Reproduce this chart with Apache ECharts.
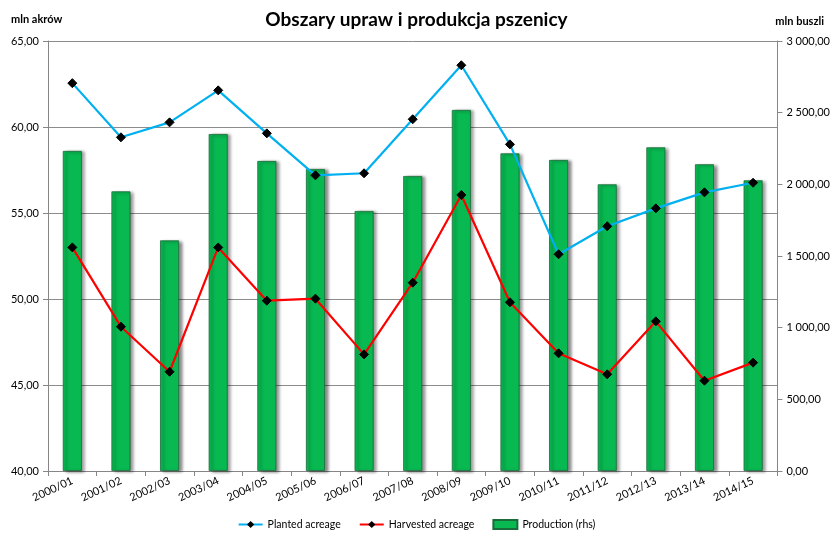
<!DOCTYPE html>
<html>
<head>
<meta charset="utf-8">
<script src="https://cdn.jsdelivr.net/npm/echarts@6/dist/echarts.min.js"></script>
<style>html,body{margin:0;padding:0;background:#fff}#c{width:833px;height:538px}</style>
</head>
<body>
<div id="c"></div>
<script>
const categories = ['2000/01','2001/02','2002/03','2003/04','2004/05','2005/06','2006/07','2007/08','2008/09','2009/10','2010/11','2011/12','2012/13','2013/14','2014/15'];
const planted = [62.55, 59.40, 60.27, 62.13, 59.63, 57.19, 57.31, 60.45, 63.59, 58.99, 52.60, 54.23, 55.27, 56.20, 56.76];
const harvested = [53.00, 48.39, 45.77, 53.00, 49.90, 50.02, 46.78, 50.95, 56.05, 49.81, 46.84, 45.62, 48.70, 45.25, 46.30];
const production = [2233, 1951, 1609, 2351, 2163, 2107, 1814, 2058, 2519, 2216, 2170, 2000, 2258, 2140, 2028];
const leftTicks = {min: 40, max: 65, interval: 5};
const rightTicks = {min: 0, max: 3000, interval: 500};

const FONT = 'Lato, "Open Sans", sans-serif';
function fmt(v) {
  const s = v.toFixed(2).split('.');
  const intPart = s[0].replace(/\B(?=(\d{3})+(?!\d))/g, ' ');
  return intPart + ',' + s[1];
}
const chart = echarts.init(document.getElementById('c'), null, {renderer: 'canvas'});
const axisGray = '#868686';
chart.setOption({
  animation: false,
  backgroundColor: '#ffffff',
  textStyle: {fontFamily: FONT},
  title: [
    {text: 'Obszary upraw i produkcja pszenicy', left: 'center', top: 5,
     textStyle: {fontFamily: FONT, fontSize: 19, fontWeight: 'bold', color: '#000'}},
    {text: 'mln akrów', left: 6, top: 9,
     textStyle: {fontFamily: FONT, fontSize: 11, fontWeight: 'bold', color: '#000'}},
    {text: 'mln buszli', right: 4, top: 11,
     textStyle: {fontFamily: FONT, fontSize: 11, fontWeight: 'bold', color: '#000'}}
  ],
  grid: {left: 48, right: 55, top: 41, bottom: 67, containLabel: false},
  legend: {
    bottom: 3, left: 'center', itemGap: 18, itemWidth: 24, itemHeight: 9,
    textStyle: {fontFamily: FONT, fontSize: 10.5, color: '#000'},
    data: [
      {name: 'Planted acreage'},
      {name: 'Harvested acreage'},
      {name: 'Production (rhs)', icon: 'rect'}
    ]
  },
  xAxis: {
    type: 'category', data: categories, boundaryGap: true,
    axisLine: {lineStyle: {color: axisGray, width: 1}},
    axisTick: {show: true, alignWithLabel: false, length: 5, lineStyle: {color: axisGray}},
    axisLabel: {rotate: 25, fontFamily: FONT, fontSize: 11, color: '#000', margin: 9, interval: 0}
  },
  yAxis: [
    {type: 'value', min: leftTicks.min, max: leftTicks.max, interval: leftTicks.interval,
     axisLine: {show: true, lineStyle: {color: axisGray}},
     axisTick: {show: true, inside: false, length: 5, lineStyle: {color: axisGray}},
     splitLine: {show: true, lineStyle: {color: '#8c8c8c', width: 1}},
     axisLabel: {formatter: fmt, fontFamily: FONT, fontSize: 11, color: '#000', margin: 9}},
    {type: 'value', min: rightTicks.min, max: rightTicks.max, interval: rightTicks.interval,
     position: 'right',
     axisLine: {show: true, lineStyle: {color: axisGray}},
     axisTick: {show: true, inside: false, length: 5, lineStyle: {color: axisGray}},
     splitLine: {show: false},
     axisLabel: {formatter: fmt, fontFamily: FONT, fontSize: 11, color: '#000', margin: 9}}
  ],
  series: [
    {name: 'Production (rhs)', type: 'bar', yAxisIndex: 1, data: production, barWidth: 19, z: 1,
     itemStyle: {color: '#08b951', borderColor: '#1a6b3a', borderWidth: 0.8,
                 shadowColor: 'rgba(0,0,0,0.45)', shadowBlur: 3, shadowOffsetX: 3, shadowOffsetY: 1}},
    {name: 'Planted acreage', type: 'line', yAxisIndex: 0, data: planted, z: 3,
     symbol: 'diamond', symbolSize: 9, showAllSymbol: true,
     lineStyle: {color: '#00b0f0', width: 2.2},
     itemStyle: {color: '#000', borderColor: '#000'}},
    {name: 'Harvested acreage', type: 'line', yAxisIndex: 0, data: harvested, z: 3,
     symbol: 'diamond', symbolSize: 9, showAllSymbol: true,
     lineStyle: {color: '#ff0000', width: 2.2},
     itemStyle: {color: '#000', borderColor: '#000'}}
  ]
});
</script>
</body>
</html>
